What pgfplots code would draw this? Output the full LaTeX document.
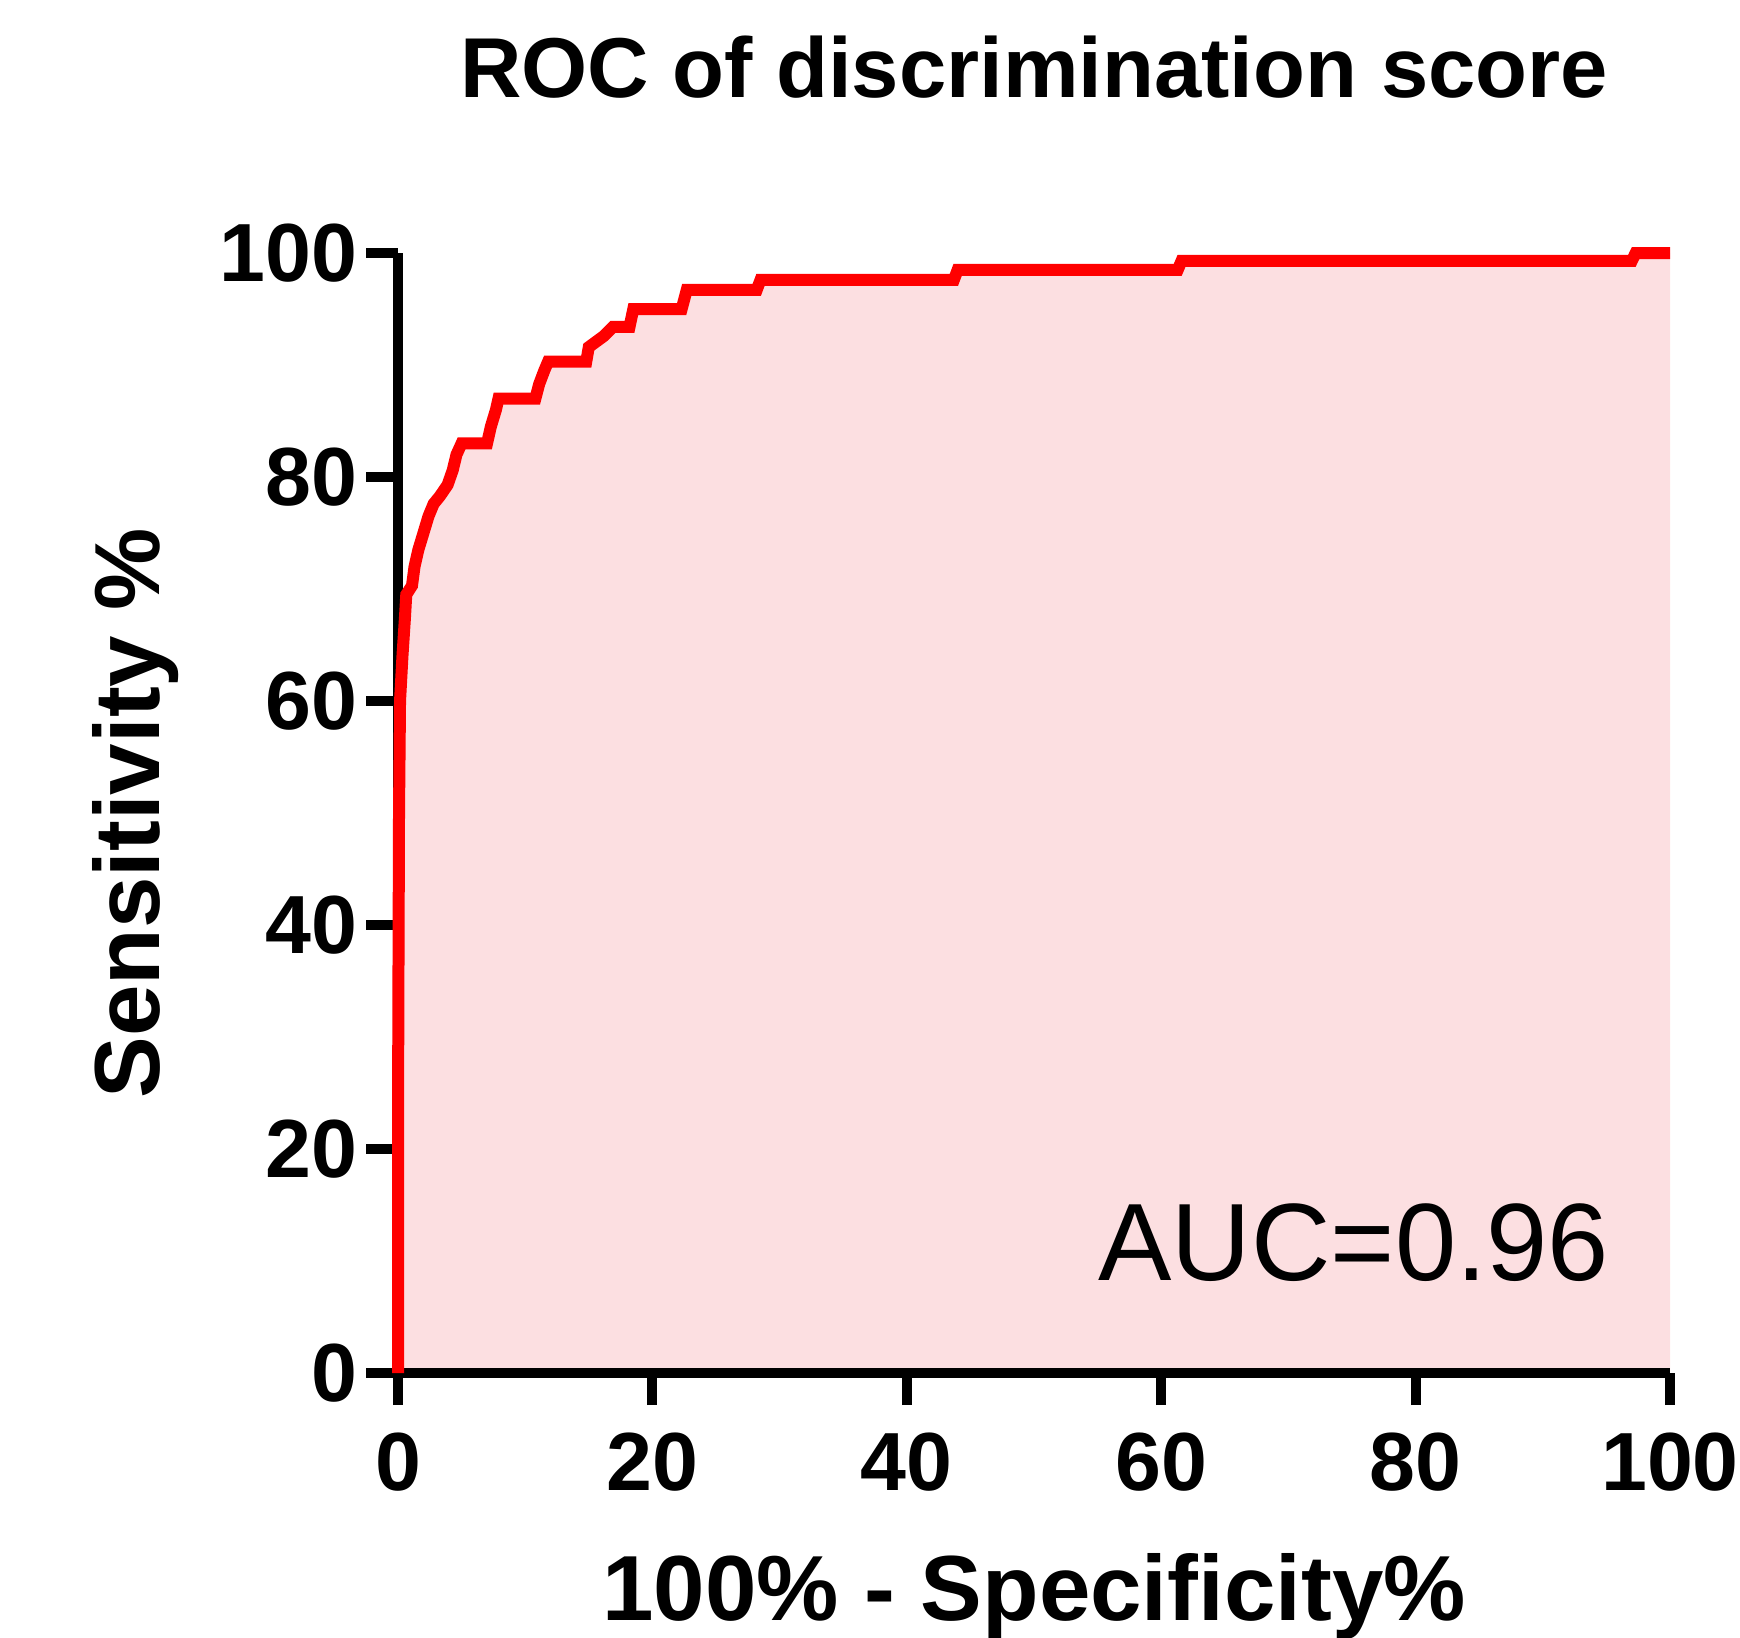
\documentclass[border=0pt]{standalone}
\usepackage{fontspec}
\setmainfont{Liberation Sans}
\usepackage{pgfplots}
\usepackage{pgfplotstable}
\pgfplotsset{compat=1.18}

\definecolor{rocred}{RGB}{255,0,0}
\definecolor{rocfill}{RGB}{252,223,225}

\pgfplotstableread{
x y
0 0
0.02 30
0.08 50
0.16 60
0.35 64
0.55 67.5
0.65 69.5
1.1 70.3
1.3 72
1.6 73.5
2.0 75
2.4 76.5
2.8 77.6
3.3 78.3
3.9 79.3
4.3 80.6
4.6 82
5.0 83
7.0 83
7.3 84.5
7.7 86
7.9 87
10.8 87
11.1 88.3
11.5 89.5
11.8 90.3
14.8 90.3
15.0 91.6
15.6 92.1
16.2 92.6
16.9 93.4
18.2 93.4
18.5 95
22.3 95
22.7 96.7
28.2 96.7
28.5 97.6
43.7 97.6
44.0 98.5
61.3 98.5
61.6 99.3
97.0 99.3
97.3 100
100 100
}\roctable

\begin{document}
\begin{tikzpicture}
\begin{axis}[
    at={(0,0)}, anchor=south west,
    scale only axis,
    width=254.4pt, height=224pt,
    xmin=0, xmax=100, ymin=0, ymax=100,
    set layers,
    clip=false,
    axis lines=left,
    axis line style={-, line width=2pt, black},
    xtick={0,20,...,100}, ytick={0,20,...,100},
    tick align=outside,
    major tick length=6.4pt,
    tick style={line width=2pt, black},
    /pgf/number format/assume math mode=true,
    ticklabel style={font=\bfseries\fontsize{16.5}{18}\selectfont},
    xticklabel style={inner sep=0pt, anchor=north, yshift=-5.4pt},
    yticklabel style={inner sep=0pt, anchor=east, xshift=-1.6pt},
    title={ROC of discrimination score},
    title style={font=\bfseries\fontsize{17}{20}\selectfont, at={(axis description cs:0.5,1)}, anchor=base, yshift=25.2pt},
    xlabel={100\% - Specificity\%},
    xlabel style={font=\bfseries\fontsize{18.5}{22}\selectfont, at={(axis description cs:0.5,0)}, anchor=base, yshift=-49.4pt},
    ylabel={Sensitivity \%},
    ylabel style={font=\bfseries\fontsize{18.5}{22}\selectfont, at={(axis description cs:0,0.5)}, anchor=base, yshift=47.6pt},
]
\addplot[fill=rocfill, draw=none, on layer=axis background] table[x=x, y=y] {\roctable} \closedcycle;
\addplot[rocred, line width=2.4pt] table[x=x, y=y] {\roctable};
\node[anchor=base west, inner sep=0pt, font=\fontsize{22}{26}\selectfont] at (axis cs:55.0,8.3) {AUC=0.96};
\end{axis}
% fixed page frame, 0.2pt per reference pixel
\pgfresetboundingbox
\path[use as bounding box] (-79.6pt,-52.8pt) rectangle (268.4pt,274.6pt);
\end{tikzpicture}
\end{document}
